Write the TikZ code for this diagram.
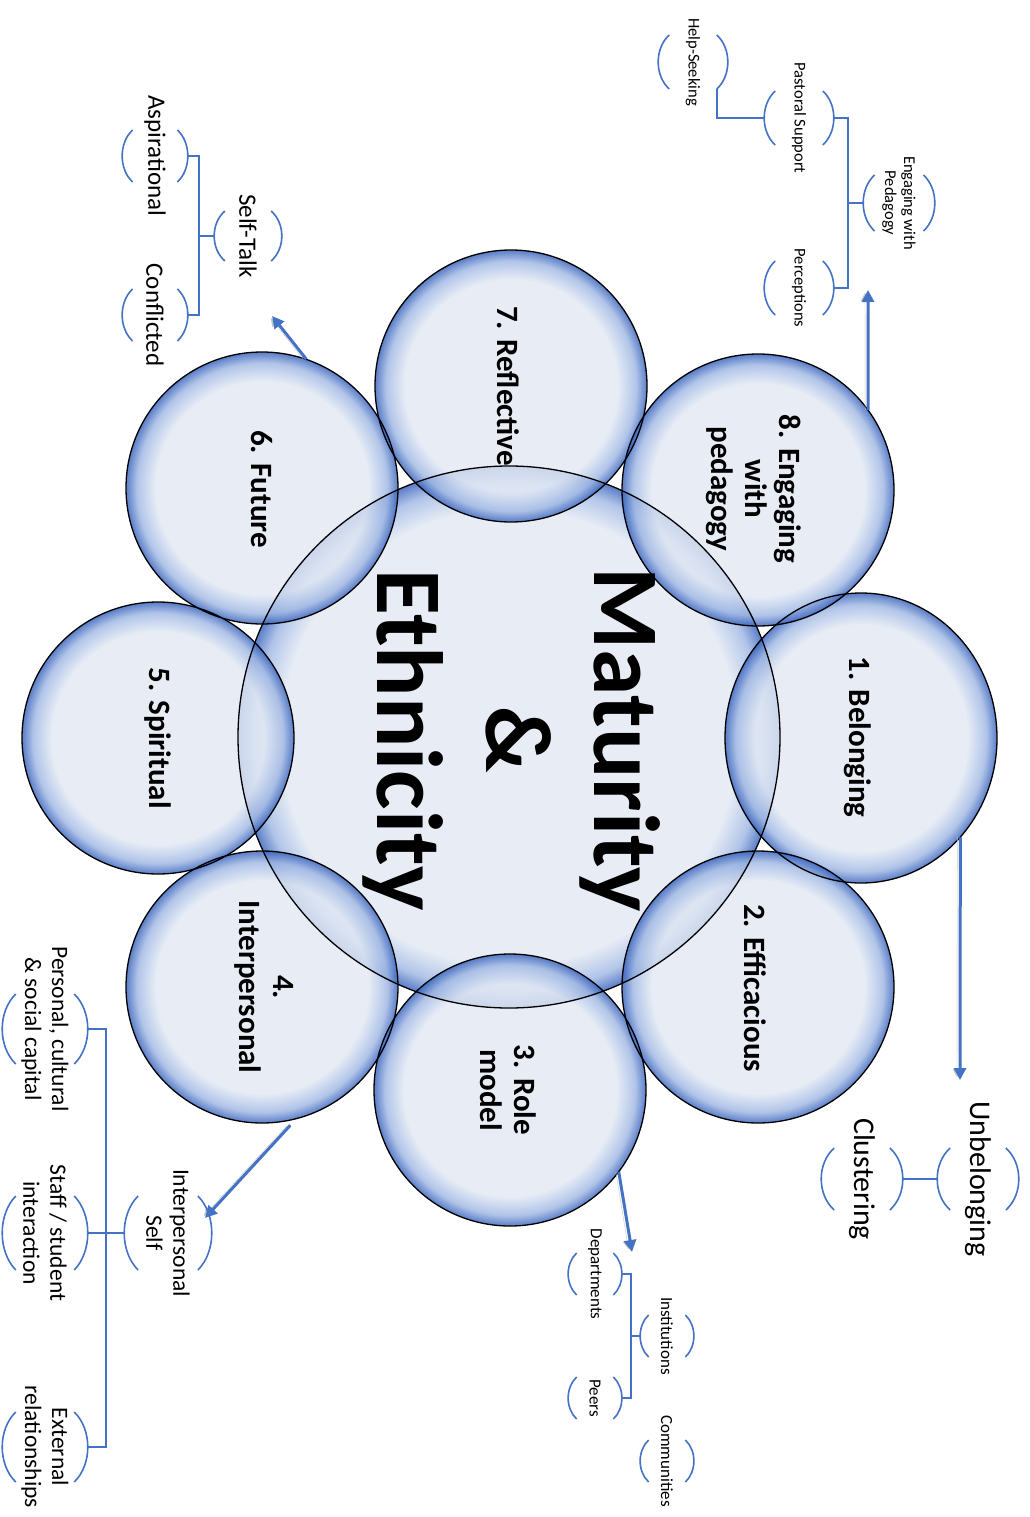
\documentclass[tikz,border=0pt]{standalone}
\usepackage{fontspec}
\setmainfont{Carlito}
\usetikzlibrary{arrows.meta,shapes.geometric}

\definecolor{bubin}{RGB}{228,234,244}
\definecolor{bubmid}{RGB}{160,184,228}
\definecolor{bubout}{RGB}{55,98,188}
\definecolor{linkblue}{RGB}{68,114,196}

\pgfdeclareradialshading{bubshade}{\pgfpointorigin}{color(0bp)=(bubin); color(19.5bp)=(bubin); color(23bp)=(bubmid); color(25bp)=(bubout); color(50bp)=(bubout)}
\pgfdeclareradialshading{hubshade}{\pgfpointorigin}{color(0bp)=(bubin); color(21bp)=(bubin); color(23.5bp)=(bubmid); color(25bp)=(bubout); color(50bp)=(bubout)}

% label between a pair of brackets: name, x, y, half width, half height, font style, text
\newcommand{\brk}[7]{%
  \node[brtxt, #6] (#1) at (#2,#3) {#7};
  \coordinate (#1-l) at ({#2-#4},#3);
  \coordinate (#1-r) at ({#2+#4},#3);
  \coordinate (#1-rb) at ({#2+0.68*#4},{#3+#5});
  \draw[brline] ({#2-0.68*#4},{#3-#5}) .. controls ({#2-1.1*#4},{#3-0.5*#5}) and ({#2-1.1*#4},{#3+0.5*#5}) .. ({#2-0.68*#4},{#3+#5});
  \draw[brline] ({#2+0.68*#4},{#3-#5}) .. controls ({#2+1.1*#4},{#3-0.5*#5}) and ({#2+1.1*#4},{#3+0.5*#5}) .. ({#2+0.68*#4},{#3+#5});
}

\begin{document}
\begin{tikzpicture}[x=1pt, y=-1pt,
    bubble/.style={circle, minimum size=272pt, inner sep=0pt, shade, shading=bubshade, fill opacity=0.82},
    hub/.style={circle, minimum size=542pt, inner sep=0pt, shade, shading=hubshade, fill opacity=0.82},
    edge/.style={draw=black, line width=1.3pt},
    bubtxt/.style={rotate=-90, align=center, inner sep=0pt, font=\fontsize{31}{34}\selectfont\bfseries},
    hubtxt/.style={rotate=-90, align=center, inner sep=0pt, font=\fontsize{94}{108.5}\selectfont\bfseries},
    brtxt/.style={rotate=-90, align=center, inner sep=0pt},
    bsmall/.style={font=\fontsize{16.5}{19}\selectfont},
    bmed/.style={font=\fontsize{17}{19.5}\selectfont},
    blarge/.style={font=\fontsize{25}{28}\selectfont},
    bxl/.style={font=\fontsize{30}{34}\selectfont},
    bgrp/.style={font=\fontsize{23.5}{27}\selectfont},
    brline/.style={draw=linkblue, line width=1.6pt},
    bus/.style={draw=linkblue, line width=2pt},
    arr/.style={draw=linkblue, line width=3pt, -{Triangle[length=12pt, width=12pt]},
        preaction={draw=black!22, transform canvas={xshift=-3pt}}}]

    \fill[white] (0,0) rectangle (1029,1517);
    \useasboundingbox (0,0) rectangle (1029,1517);

    % circles
    \node[hub] (c0) at (509,737) {};
    \node[bubble, ellipse, minimum width=272pt, minimum height=290pt] (c1) at (861,738) {};
    \node[bubble] (c2) at (758,987) {};
    \node[bubble] (c3) at (510,1090) {};
    \node[bubble] (c4) at (262,987) {};
    \node[bubble] (c5) at (158,738) {};
    \node[bubble] (c6) at (262,488) {};
    \node[bubble] (c7) at (511,386) {};
    \node[bubble] (c8) at (758,490) {};

    \draw[edge] (c0) circle (271);
    \draw[edge] (c1) ellipse [x radius=136, y radius=145];
    \foreach \k in {2,...,8} {
        \draw[edge] (c\k) circle (136);
    }

    \node[hubtxt] (mt) at (512,740) {Maturity\\\&\\Ethnicity};
    \node[bubtxt] (t1) at (858,737) {1. Belonging};
    \node[bubtxt] (t2) at (755,988) {2. Efficacious};
    \node[bubtxt] (t3) at (508,1090) {3. Role\\model};
    \node[bubtxt] (t4) at (264,987) {4.\\Interpersonal};
    \node[bubtxt] (t5) at (158,738) {5. Spiritual};
    \node[bubtxt] (t6) at (262,489) {6. Future};
    \node[bubtxt] (t7) at (508,386) {7. Reflective};
    \node[bubtxt] (t8) at (754,489) {8. Engaging\\with\\pedagogy};

    % arrows out of the circles
    \coordinate (a8) at (868,290);
    \coordinate (a6) at (272,316);
    \coordinate (a1) at (960,1080);
    \coordinate (a3) at (632,1252);
    \coordinate (a4) at (205,1218);
    \draw[arr] (c8.36) -- (a8);
    \draw[arr] (c6.71) -- (a6);
    \draw[arr] (c1.-45) -- (a1);
    \draw[arr] (c3.-37) -- (a3);
    \draw[arr] ([shift={(0,5)}]c4.-78) -- (a4);

    % engaging with pedagogy
    \brk{hs}{693}{62}{35}{27}{bsmall}{Help-Seeking}
    \brk{ps}{799}{118}{35}{27}{bsmall}{Pastoral Support}
    \brk{ep}{899}{203}{36}{28}{bsmall}{Engaging with\\Pedagogy}
    \brk{pc}{799}{288}{35}{27}{bsmall}{Perceptions}
    \draw[bus] (hs-rb) |- (ps-l);
    \draw[bus] (ps-r) -| ([xshift=-15pt]ep-l) |- (pc-r);
    \draw[bus] (ep-l) -- ++(-15,0);

    % self-talk
    \brk{as}{155}{156}{33}{26}{blarge}{Aspirational}
    \brk{st}{248}{236}{34}{25}{blarge}{Self-Talk}
    \brk{cf}{155}{315}{33}{26}{blarge}{Conflicted}
    \draw[bus] (as-r) -| ([xshift=-15pt]st-l) |- (cf-r);
    \draw[bus] (st-l) -- ++(-15,0);

    % unbelonging
    \brk{cl}{862}{1179}{41}{31}{bxl}{Clustering}
    \brk{ub}{978}{1179}{41}{31}{bxl}{Unbelonging}
    \draw[bus] (cl-r) -- (ub-l);

    % institutions
    \brk{dp}{595}{1274}{27}{21}{bmed}{Departments}
    \brk{ins}{667}{1336}{27}{21}{bmed}{Institutions}
    \brk{pe}{595}{1398}{27}{21}{bmed}{Peers}
    \brk{cm}{667}{1461}{27}{21}{bmed}{Communities}
    \draw[bus] (dp-r) -| ([xshift=-9pt]ins-l) |- (pe-r);
    \draw[bus] (ins-l) -- ++(-9,0);

    % interpersonal self
    \brk{pcc}{45}{1029}{43}{35}{bgrp}{Personal, cultural\\\& social capital}
    \brk{ssi}{45}{1233}{43}{37}{bgrp}{Staff / student\\interaction}
    \brk{erl}{45}{1447}{43}{35}{bgrp}{External\\relationships}
    \brk{ips}{168}{1233}{44}{37}{bgrp}{Interpersonal\\Self}
    \draw[bus] (pcc-r) -| ([xshift=-18pt]ips-l) |- (erl-r);
    \draw[bus] (ssi-r) -- (ips-l);
\end{tikzpicture}
\end{document}
